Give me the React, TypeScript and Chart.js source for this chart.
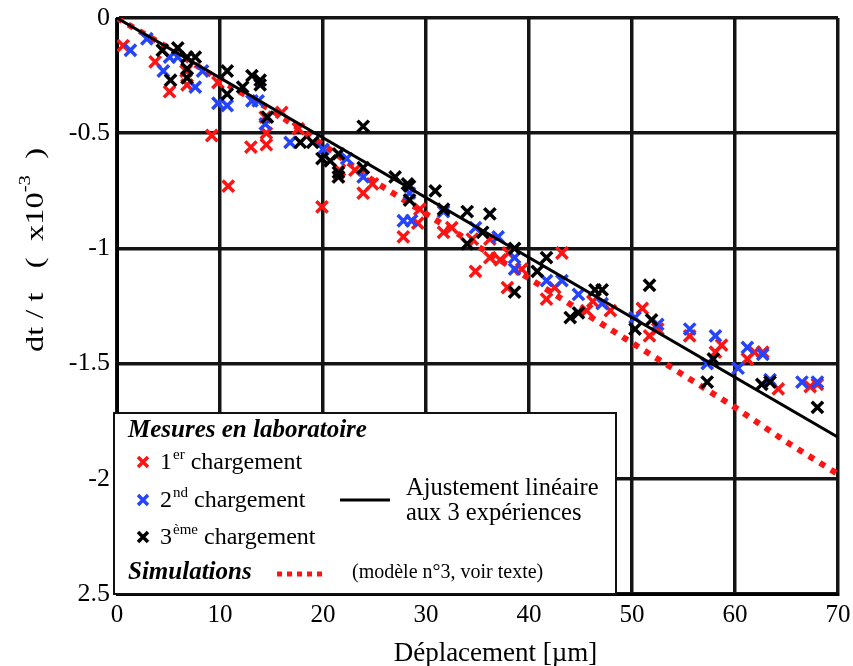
import React, { useEffect, useRef } from "react";
import { Chart, registerables } from "chart.js";

Chart.register(...registerables);

// ---- data ----
const redX = [0.6, 3.7, 5.1, 6.8, 6.7, 9.2, 10.8, 9.8, 13.0, 14.5, 14.4, 14.5, 16.0, 17.6, 19.9, 21.5, 21.6, 23.1, 23.9, 24.8, 27.8, 29.4, 29.2, 31.7, 32.5, 34.8, 34.5, 36.2, 36.2, 37.2, 37.9, 39.3, 38.0, 43.2, 41.7, 42.5, 45.6, 46.2, 47.9, 51.0, 51.7, 52.5, 55.6, 58.1, 58.7, 61.2, 61.9, 62.7, 64.2, 67.3, 68.0];
const redY = [-0.12, -0.19, -0.32, -0.29, -0.23, -0.51, -0.73, -0.28, -0.56, -0.55, -0.43, -0.50, -0.41, -0.48, -0.82, -0.69, -0.66, -0.66, -0.76, -0.72, -0.95, -0.83, -0.89, -0.93, -0.91, -1.10, -0.96, -0.96, -1.04, -1.05, -1.17, -1.09, -1.02, -1.02, -1.22, -1.17, -1.27, -1.23, -1.27, -1.26, -1.38, -1.35, -1.38, -1.45, -1.42, -1.48, -1.45, -1.45, -1.61, -1.60, -1.59];

const blueX = [1.3, 2.9, 4.5, 5.1, 5.9, 7.6, 8.3, 9.8, 10.7, 13.1, 13.7, 14.4, 16.8, 20.0, 22.3, 23.9, 27.8, 28.6, 28.4, 31.7, 34.8, 37.0, 38.6, 38.6, 41.7, 43.2, 44.8, 47.1, 50.3, 52.5, 55.6, 58.1, 57.3, 60.3, 61.2, 62.7, 63.4, 66.5, 68.0];
const blueY = [-0.14, -0.09, -0.23, -0.17, -0.17, -0.30, -0.23, -0.37, -0.38, -0.36, -0.36, -0.46, -0.54, -0.57, -0.61, -0.69, -0.88, -0.88, -0.76, -0.84, -0.91, -0.95, -1.04, -1.09, -1.14, -1.14, -1.20, -1.24, -1.30, -1.33, -1.35, -1.38, -1.50, -1.52, -1.43, -1.46, -1.57, -1.58, -1.58];

const blackX = [4.4, 5.9, 5.2, 6.8, 6.8, 6.8, 7.6, 10.7, 10.7, 12.2, 13.1, 13.9, 13.9, 14.6, 17.8, 19.0, 23.9, 19.9, 20.7, 21.5, 21.5, 21.5, 23.9, 27.0, 28.2, 28.4, 28.4, 30.9, 31.7, 34.0, 36.2, 34.0, 35.5, 38.6, 40.8, 38.6, 41.7, 44.0, 44.8, 46.4, 47.1, 51.7, 50.3, 51.9, 57.9, 57.3, 62.6, 63.4, 68.0];
const blackY = [-0.14, -0.13, -0.27, -0.17, -0.22, -0.26, -0.17, -0.23, -0.33, -0.30, -0.25, -0.27, -0.29, -0.43, -0.54, -0.54, -0.47, -0.61, -0.62, -0.59, -0.67, -0.69, -0.65, -0.69, -0.72, -0.73, -0.79, -0.75, -0.83, -0.84, -0.85, -0.98, -0.93, -1.00, -1.10, -1.19, -1.04, -1.30, -1.28, -1.18, -1.18, -1.16, -1.35, -1.31, -1.48, -1.58, -1.59, -1.58, -1.69];

const fitX = [0, 70];
const fitY = [0, -1.82];

const simX = [0, 5, 10, 15, 20, 25, 30, 35, 40, 45, 50, 55, 60, 65, 70];
const simY = [0, -0.13, -0.27, -0.40, -0.55, -0.71, -0.85, -0.99, -1.13, -1.27, -1.41, -1.55, -1.69, -1.84, -1.98];

const xTicks = [0, 10, 20, 30, 40, 50, 60, 70];
const yTickLabels: Record<string, string> = { "0": "0", "-0.5": "-0.5", "-1": "-1", "-1.5": "-1.5", "-2": "-2", "-2.5": "2.5" };

const xTitle = "Déplacement [µm]";
const legendTitle1 = "Mesures en laboratoire";
const legendTitle2 = "Simulations";
const legendSeries = [
  { num: "1", sup: "er", rest: " chargement" },
  { num: "2", sup: "nd", rest: " chargement" },
  { num: "3", sup: "ème", rest: " chargement" },
];
const fitLabel = ["Ajustement linéaire", "aux 3 expériences"];
const simLabel = "(modèle n°3, voir texte)";

const RED = "#ff1414";
const BLUE = "#2444ff";
const BLACK = "#000000";
const SERIF = "'Liberation Serif', 'Times New Roman', serif";

const zip = (xs: number[], ys: number[]) => xs.map((x, i) => ({ x, y: ys[i] }));

function drawCross(ctx: CanvasRenderingContext2D, x: number, y: number, r: number, color: string) {
  ctx.save();
  ctx.strokeStyle = color;
  ctx.lineWidth = 3.5;
  ctx.beginPath();
  ctx.moveTo(x - r, y - r);
  ctx.lineTo(x + r, y + r);
  ctx.moveTo(x - r, y + r);
  ctx.lineTo(x + r, y - r);
  ctx.stroke();
  ctx.restore();
}

const overlayPlugin = {
  id: "overlay",
  afterDraw(chart: any) {
    const ctx: CanvasRenderingContext2D = chart.ctx;
    const { left, top, bottom, right } = chart.chartArea;
    ctx.save();

    // ---- legend box ----
    const bx = left - 3;
    const by = top + 395;
    const bw = 502;
    const bh = bottom - by;
    ctx.fillStyle = "#ffffff";
    ctx.fillRect(bx - 1, by, bw + 1, bh);
    ctx.strokeStyle = "#111";
    ctx.lineWidth = 2;
    ctx.strokeRect(bx, by, bw, bh);

    ctx.fillStyle = "#000";
    ctx.textBaseline = "alphabetic";
    ctx.textAlign = "left";
    ctx.font = `bold italic 25px ${SERIF}`;
    ctx.fillText(legendTitle1, bx + 14, by + 24);
    ctx.fillText(legendTitle2, bx + 14, by + 166);

    const colors = [RED, BLUE, BLACK];
    const rowY = [by + 49, by + 87, by + 124];
    const baseY = [by + 56, by + 94, by + 131];
    legendSeries.forEach((s, i) => {
      drawCross(ctx, bx + 29, rowY[i], 5, colors[i]);
      let tx = bx + 46;
      ctx.fillStyle = "#000";
      ctx.font = `24px ${SERIF}`;
      ctx.fillText(s.num, tx, baseY[i]);
      tx += ctx.measureText(s.num).width + 1;
      ctx.font = `15px ${SERIF}`;
      ctx.fillText(s.sup, tx, baseY[i] - 10);
      tx += ctx.measureText(s.sup).width;
      ctx.font = `24px ${SERIF}`;
      ctx.fillText(s.rest, tx, baseY[i]);
    });

    // fit line legend
    ctx.strokeStyle = BLACK;
    ctx.lineWidth = 3;
    ctx.beginPath();
    ctx.moveTo(left + 223, by + 87);
    ctx.lineTo(left + 273, by + 87);
    ctx.stroke();
    ctx.font = `24.5px ${SERIF}`;
    ctx.fillText(fitLabel[0], left + 289, by + 82);
    ctx.fillText(fitLabel[1], left + 289, by + 107);

    // simulation legend
    ctx.strokeStyle = RED;
    ctx.lineWidth = 5;
    ctx.setLineDash([5, 5]);
    ctx.beginPath();
    ctx.moveTo(left + 160, by + 161);
    ctx.lineTo(left + 207, by + 161);
    ctx.stroke();
    ctx.setLineDash([]);
    ctx.font = `20px ${SERIF}`;
    ctx.fillText(simLabel, left + 235, by + 165);

    // ---- x title ----
    ctx.font = `27px ${SERIF}`;
    ctx.textAlign = "center";
    ctx.fillText(xTitle, (left + right) / 2 + 18, bottom + 67);

    // ---- y title ----
    ctx.translate(36, 250);
    ctx.rotate(-Math.PI / 2);
    ctx.scale(1.3, 1);
    const parts = [
      { t: "dt / t   (  x10", s: false },
      { t: "-3", s: true },
      { t: "  )", s: false },
    ];
    let total = 0;
    parts.forEach((p) => {
      ctx.font = p.s ? `16px ${SERIF}` : `25px ${SERIF}`;
      total += ctx.measureText(p.t).width;
    });
    let px = -total / 2;
    ctx.textAlign = "left";
    ctx.textBaseline = "middle";
    parts.forEach((p) => {
      ctx.font = p.s ? `16px ${SERIF}` : `25px ${SERIF}`;
      ctx.fillText(p.t, px, p.s ? -10 : 0);
      px += ctx.measureText(p.t).width;
    });

    ctx.restore();
  },
};

export default function App() {
  const ref = useRef<HTMLCanvasElement | null>(null);

  useEffect(() => {
    if (!ref.current) return;
    const crossStyle = (color: string) => ({
      pointStyle: "crossRot" as const,
      pointRadius: 8,
      pointBorderWidth: 3.5,
      pointBorderColor: color,
      pointBackgroundColor: color,
      borderColor: color,
      showLine: false,
    });
    const chart = new Chart(ref.current, {
      type: "scatter",
      data: {
        datasets: [
          { label: "sim", data: zip(simX, simY), showLine: true, borderColor: RED, borderWidth: 6, borderDash: [6, 7], pointRadius: 0, order: 5 },
          { label: "red", data: zip(redX, redY), ...crossStyle(RED), order: 4 },
          { label: "blue", data: zip(blueX, blueY), ...crossStyle(BLUE), order: 3 },
          { label: "black", data: zip(blackX, blackY), ...crossStyle(BLACK), order: 2 },
          { label: "fit", data: zip(fitX, fitY), showLine: true, borderColor: BLACK, borderWidth: 3, pointRadius: 0, order: 1 },
        ],
      },
      options: {
        responsive: false,
        animation: false,
        devicePixelRatio: 1,
        layout: { padding: { top: 18, right: 15, left: 0, bottom: 0 } },
        plugins: { legend: { display: false }, tooltip: { enabled: false }, title: { display: false } },
        scales: {
          x: {
            type: "linear",
            min: 0,
            max: 70,
            afterBuildTicks: (s: any) => { s.ticks = xTicks.map((v) => ({ value: v })); },
            afterFit: (s: any) => { s.height = 72; s.paddingLeft = 0; s.paddingRight = 0; },
            ticks: { color: "#000", font: { family: SERIF, size: 25 }, padding: 6, maxRotation: 0, callback: (v: any) => String(v) },
            grid: { color: "#141414", lineWidth: 3.5, drawTicks: false },
            border: { display: true, color: "#000", width: 3 },
          },
          y: {
            type: "linear",
            min: -2.5,
            max: 0,
            ticks: { stepSize: 0.5, color: "#000", font: { family: SERIF, size: 26 }, padding: 7, callback: (v: any) => yTickLabels[String(v)] ?? String(v) },
            afterFit: (s: any) => { s.width = 117; s.paddingTop = 0; s.paddingBottom = 0; },
            grid: { color: "#141414", lineWidth: 3.5, drawTicks: false },
            border: { display: true, color: "#000", width: 3 },
          },
        },
      },
      plugins: [overlayPlugin],
    } as any);
    return () => chart.destroy();
  }, []);

  return (
    <div style={{ position: "absolute", left: 0, top: 0, width: 853, height: 666, background: "#fff" }}>
      <canvas ref={ref} width={853} height={666} style={{ display: "block" }} />
    </div>
  );
}
